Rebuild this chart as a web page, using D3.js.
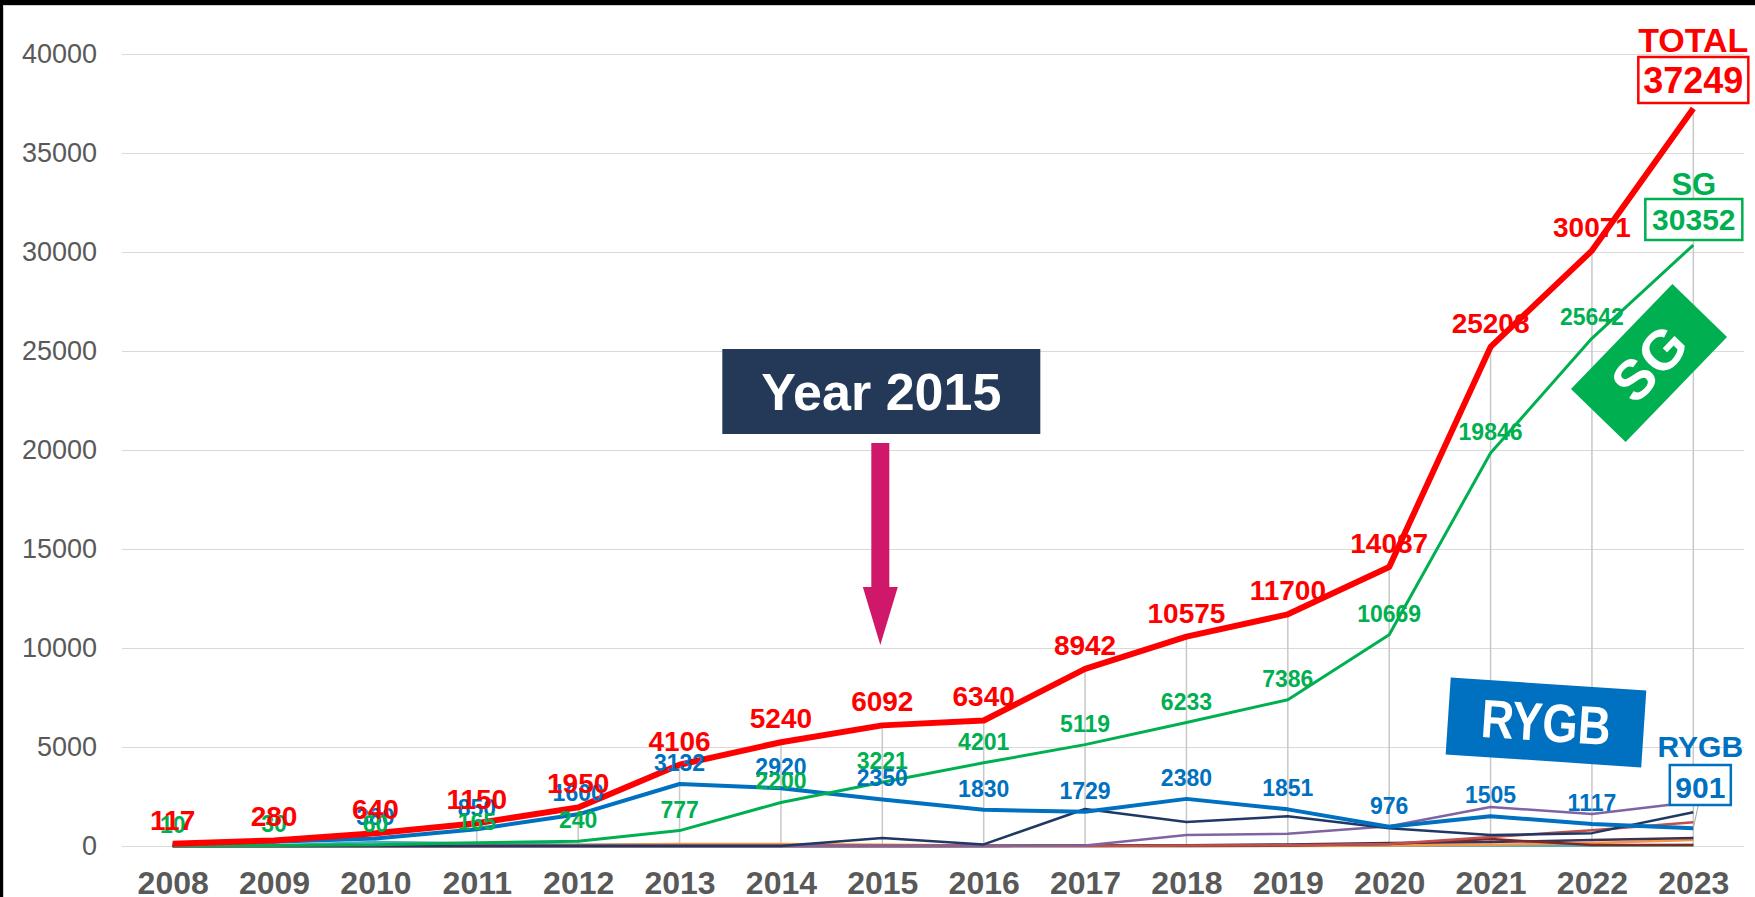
<!DOCTYPE html>
<html lang="en">
<head>
<meta charset="utf-8">
<title>TOTAL / SG / RYGB by year</title>
<script src="https://cdn.jsdelivr.net/npm/d3@7"></script>
<style>
  body { margin: 0; background: #fff; }
  svg { display: block; font-family: "Liberation Sans", Arial, sans-serif; }
</style>
</head>
<body>
<script>

// categories
var years = [2008, 2009, 2010, 2011, 2012, 2013, 2014, 2015, 2016, 2017, 2018, 2019, 2020, 2021, 2022, 2023];

// main series
var total = [117, 280, 640, 1150, 1950, 4106, 5240, 6092, 6340, 8942, 10575, 11700, 14087, 25208, 30071, 37249];
var sg    = [10, 30, 60, 165, 240, 777, 2200, 3221, 4201, 5119, 6233, 7386, 10669, 19846, 25642, 30352];
var rygb  = [100, 220, 380, 850, 1600, 3132, 2920, 2350, 1830, 1729, 2380, 1851, 976, 1505, 1117, 901];

// smaller procedures (unlabelled thin lines)
var otherNavy   = [0, 0, 0, 0, 0, 0, 0, 400, 80, 1870, 1210, 1500, 900, 550, 650, 1700];
var otherPurple = [0, 0, 0, 0, 0, 0, 0, 0, 0, 20, 550, 620, 1000, 1970, 1620, 2220];
var otherRed    = [0, 0, 0, 0, 0, 0, 0, 0, 0, 0, 20, 40, 100, 450, 800, 1200];
var otherPlum   = [0, 0, 0, 0, 0, 0, 0, 0, 0, 20, 40, 80, 150, 200, 300, 400];
var otherMaroon = [0, 0, 0, 0, 0, 0, 0, 0, 0, 0, 0, 20, 100, 350, 50, 50];
var otherOrange = [0, 0, 0, 0, 50, 100, 100, 60, 20, 10, 10, 10, 20, 60, 150, 300];
var otherTeal   = [7, 30, 200, 135, 60, 90, 20, 10, 10, 10, 10, 10, 10, 20, 30, 50];
var otherOlive  = [0, 0, 0, 0, 0, 0, 0, 0, 0, 0, 0, 0, 10, 10, 10, 20];

// y tick labels
var yTicks = [0, 5000, 10000, 15000, 20000, 25000, 30000, 35000, 40000];

var w = 1755;
var h = 897;
var plotLeft = 122, plotRight = 1744, plotTop = 54, plotBottom = 846;
var font = "'Liberation Sans', Arial, sans-serif";

var xScale = d3.scalePoint()
               .domain(years)
               .range([plotLeft, plotRight])
               .padding(0.5);

var yScale = d3.scaleLinear()
               .domain([0, 40000])
               .range([plotBottom, plotTop]);

var svg = d3.select("body")
            .append("svg")
            .attr("width", w)
            .attr("height", h);

svg.append("rect").attr("width", w).attr("height", h).attr("fill", "#fff");

//frame: black edge top and left, as in the screenshot
svg.append("rect").attr("x", 0).attr("y", 0).attr("width", w).attr("height", 5).attr("fill", "#000");
svg.append("rect").attr("x", 0).attr("y", 0).attr("width", 3).attr("height", h).attr("fill", "#000");
svg.append("line").attr("x1", 3).attr("x2", w).attr("y1", 5.5).attr("y2", 5.5).attr("stroke", "#d0d0d0");
svg.append("line").attr("x1", 3.5).attr("x2", 3.5).attr("y1", 5).attr("y2", h).attr("stroke", "#d0d0d0");

//y axis with gridlines
svg.append("g")
   .attr("transform", "translate(" + plotLeft + ",0)")
   .call(d3.axisLeft(yScale)
           .tickValues(yTicks)
           .tickSize(-(plotRight - plotLeft))
           .tickPadding(25)
           .tickFormat(d3.format("d")))
   .call(function(g) { g.select(".domain").remove(); })
   .call(function(g) { g.selectAll(".tick line").attr("stroke", "#d9d9d9").attr("stroke-width", 1.2); })
   .call(function(g) {
       g.selectAll(".tick text")
        .attr("font-family", font)
        .attr("font-size", "27px")
        .attr("fill", "#595959");
   });

//x axis
svg.append("g")
   .attr("transform", "translate(0," + plotBottom + ")")
   .call(d3.axisBottom(xScale).tickSize(0).tickPadding(25))
   .call(function(g) { g.select(".domain").remove(); })
   .call(function(g) {
       g.selectAll(".tick text")
        .attr("font-family", font)
        .attr("font-size", "32px")
        .attr("font-weight", "bold")
        .attr("fill", "#595959");
   });

//drop lines from the total down to zero
svg.selectAll("line.drop")
   .data(years)
   .enter()
   .append("line")
   .attr("class", "drop")
   .attr("x1", function(d) { return xScale(d); })
   .attr("x2", function(d) { return xScale(d); })
   .attr("y1", function(d, i) { return yScale(total[i]); })
   .attr("y2", yScale(0))
   .attr("stroke", "#c8c8c8")
   .attr("stroke-width", 1.5);

var line = d3.line()
             .x(function(d, i) { return xScale(years[i]); })
             .y(function(d) { return yScale(d); });

function drawLine(values, color, width) {
    svg.append("path")
       .datum(values)
       .attr("d", line)
       .attr("fill", "none")
       .attr("stroke", color)
       .attr("stroke-width", width)
       .attr("stroke-linejoin", "round");
}

drawLine(otherOlive, "#9bbb59", 2.5);
drawLine(otherTeal, "#4bacc6", 2.5);
drawLine(otherOrange, "#f79646", 2.5);
drawLine(otherPlum, "#403152", 2.5);
drawLine(otherMaroon, "#772c2a", 2.5);
drawLine(otherRed, "#c0504d", 2.5);
drawLine(otherPurple, "#8064a2", 2.5);
drawLine(otherNavy, "#1f3864", 2.5);
drawLine(rygb, "#0070c0", 4);
drawLine(sg, "#00b050", 3);
drawLine(total, "#ff0000", 6);

//value labels above the points
function addLabels(values, color, size, offset, from, to) {
    svg.append("g")
       .selectAll("text")
       .data(values.slice(from, to))
       .enter()
       .append("text")
       .text(function(d) { return d; })
       .attr("x", function(d, i) { return xScale(years[i + from]); })
       .attr("y", function(d) { return yScale(d) - offset; })
       .attr("text-anchor", "middle")
       .attr("font-family", font)
       .attr("font-size", size + "px")
       .attr("font-weight", "bold")
       .attr("fill", color);
}

addLabels(rygb, "#0070c0", 23, 13, 2, 15);
addLabels(sg, "#00b050", 23, 13, 0, 15);
addLabels(total, "#ff0000", 28, 14, 0, 15);

//end-of-line callouts for 2023
var xEnd = xScale(2023);

function callout(name, value, color, nameSize, nameY, box, valueSize, valueY) {
    svg.append("text")
       .text(name)
       .attr("x", box.cx).attr("y", nameY)
       .attr("text-anchor", "middle")
       .attr("font-family", font)
       .attr("font-size", nameSize + "px")
       .attr("font-weight", "bold")
       .attr("fill", color);
    svg.append("rect")
       .attr("x", box.cx - box.w / 2).attr("y", box.y)
       .attr("width", box.w).attr("height", box.h)
       .attr("fill", "#fff")
       .attr("stroke", color)
       .attr("stroke-width", 2.5);
    svg.append("text")
       .text(value)
       .attr("x", box.cx).attr("y", valueY)
       .attr("text-anchor", "middle")
       .attr("font-family", font)
       .attr("font-size", valueSize + "px")
       .attr("font-weight", "bold")
       .attr("fill", color);
}

//thin leader from the RYGB callout down to its point
svg.append("line")
   .attr("x1", xEnd).attr("y1", yScale(rygb[15]))
   .attr("x2", xEnd + 5).attr("y2", 805)
   .attr("stroke", "#a6a6a6").attr("stroke-width", 1);

callout("TOTAL", total[15], "#ff0000", 34, 52, {cx: xEnd + 0, y: 57, w: 110, h: 46}, 36, 93);
callout("SG", sg[15], "#00b050", 31, 195, {cx: xEnd + 0.5, y: 199, w: 97, h: 41}, 30, 230);
callout("RYGB", rygb[15], "#0070c0", 30, 757, {cx: xEnd + 7, y: 765, w: 61, h: 40}, 30, 798);

//big rotated SG tag
var sgTag = svg.append("g").attr("transform", "translate(1649,363) rotate(-46)");
sgTag.append("rect")
     .attr("x", -73).attr("y", -38)
     .attr("width", 146).attr("height", 76)
     .attr("fill", "#00b050");
sgTag.append("text")
     .text("SG")
     .attr("x", 0).attr("y", 20)
     .attr("text-anchor", "middle")
     .attr("font-family", font)
     .attr("font-size", "56px")
     .attr("font-weight", "bold")
     .attr("fill", "#fff");

//big RYGB tag, slightly tilted
var rygbTag = svg.append("g").attr("transform", "translate(1546,722) rotate(3.8)");
rygbTag.append("rect")
       .attr("x", -98).attr("y", -38)
       .attr("width", 196).attr("height", 77)
       .attr("fill", "#0070c0");
rygbTag.append("text")
       .text("RYGB")
       .attr("x", 0).attr("y", 19)
       .attr("text-anchor", "middle")
       .attr("font-family", font)
       .attr("font-size", "54px")
       .attr("font-weight", "bold")
       .attr("textLength", 130)
       .attr("lengthAdjust", "spacingAndGlyphs")
       .attr("fill", "#fff");

//Year 2015 box and arrow
var x15 = xScale(2015);
svg.append("rect")
   .attr("x", x15 - 160).attr("y", 349)
   .attr("width", 318).attr("height", 85)
   .attr("fill", "#243858");
svg.append("text")
   .text("Year 2015")
   .attr("x", x15 - 1).attr("y", 410)
   .attr("text-anchor", "middle")
   .attr("font-family", font)
   .attr("font-size", "52px")
   .attr("font-weight", "bold")
   .attr("fill", "#fff");

var ax = x15 - 2;
svg.append("path")
   .attr("d", "M" + (ax - 9) + ",443 L" + (ax + 9) + ",443 L" + (ax + 9) + ",587 L" + (ax + 17.5) + ",587 L" + ax + ",645 L" + (ax - 17.5) + ",587 L" + (ax - 9) + ",587 Z")
   .attr("fill", "#d0186a");

</script>
</body>
</html>
